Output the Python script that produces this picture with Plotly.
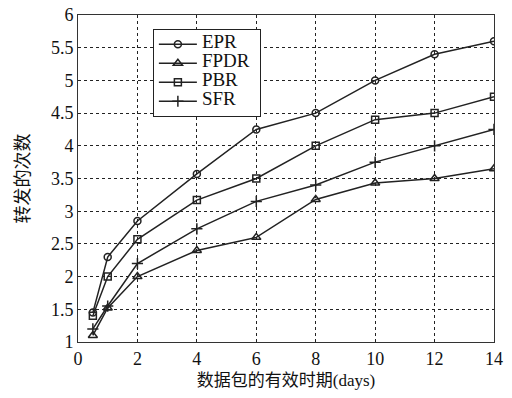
import plotly.graph_objects as go

x_days = [0.5, 1, 2, 4, 6, 8, 10, 12, 14]
epr = [1.45, 2.3, 2.85, 3.57, 4.25, 4.5, 5.0, 5.4, 5.6]
fpdr = [1.1, 1.52, 2.0, 2.4, 2.6, 3.18, 3.43, 3.5, 3.65]
pbr = [1.4, 2.0, 2.57, 3.17, 3.5, 4.0, 4.4, 4.5, 4.75]
sfr = [1.2, 1.55, 2.2, 2.73, 3.15, 3.4, 3.75, 4.0, 4.25]

series_names = ["EPR", "FPDR", "PBR", "SFR"]
x_ticks = [0, 2, 4, 6, 8, 10, 12, 14]
y_ticks = [1, 1.5, 2, 2.5, 3, 3.5, 4, 4.5, 5, 5.5, 6]
y_labels = ["1", "1.5", "2", "2.5", "3", "3.5", "4", "4.5", "5", "5.5", "6"]

FONT = "Liberation Serif, Times New Roman, Noto Sans CJK SC, serif"

fig = go.Figure()
styles = [("circle-open", 7), ("triangle-up-open", 8), ("square-open", 7), ("cross-thin-open", 8)]
for name, ys, (sym, sz) in zip(series_names, [epr, fpdr, pbr, sfr], styles):
    fig.add_trace(go.Scatter(
        x=x_days, y=ys, name=f"<span style='font-size:19px'>{name}</span>&nbsp;&nbsp;",
        mode="lines+markers",
        line=dict(color="#222", width=1.5),
        marker=dict(symbol=sym, size=sz, color="#222", line=dict(color="#222", width=1.5)),
    ))

axis_common = dict(
    showgrid=True, gridcolor="#222", griddash="dot", gridwidth=1,
    showline=True, linecolor="#333", linewidth=1, mirror=True,
    ticks="", zeroline=False, automargin=False, ticklabeloverflow="allow",
    tickfont=dict(family=FONT, size=18, color="#111"),
)

fig.update_layout(
    width=512, height=398,
    margin=dict(l=78, r=18, t=15, b=56),
    paper_bgcolor="white", plot_bgcolor="white",
    font=dict(family=FONT, color="#111"),
    xaxis=dict(range=[0, 14], tickvals=x_ticks, **axis_common,
               title=dict(text="数据包的有效时期(days)", font=dict(family=FONT, size=17), standoff=6)),
    yaxis=dict(range=[1, 6], tickvals=y_ticks, ticktext=y_labels, **axis_common,
               title=dict(text="转发的次数", font=dict(family=FONT, size=18), standoff=16)),
    legend=dict(x=0.18, y=0.958, xanchor="left", yanchor="top",
                bgcolor="white", bordercolor="#222", borderwidth=1,
                font=dict(family=FONT, size=10), itemwidth=38,
                tracegroupgap=0),
    showlegend=True,
)

# remove the page's default 8px body margin so the figure fills the window exactly
fig.write_html("out.html", config={"displayModeBar": False},
               post_script="document.body.style.margin='0';")
